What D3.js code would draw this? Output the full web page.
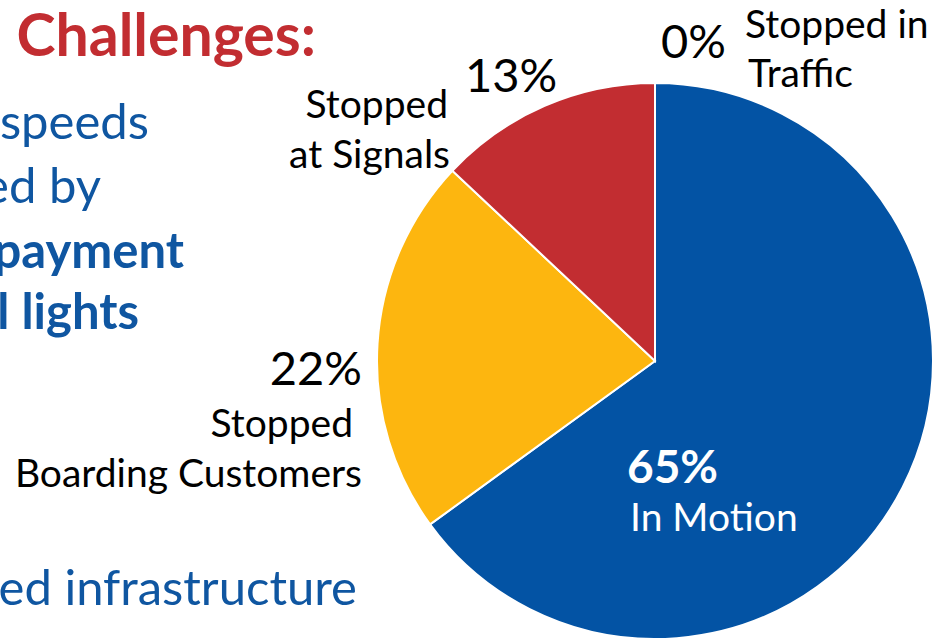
<!DOCTYPE html>
<html>
<head>
<meta charset="utf-8">
<script src="https://cdn.jsdelivr.net/npm/d3@7"></script>
<style>
  html, body { margin: 0; padding: 0; background: #fff; overflow: hidden; }
  svg { display: block; font-family: Lato, "Open Sans", sans-serif; }
</style>
</head>
<body>
<div id="chart"></div>
<script>
// Slice data (clockwise from 12 o'clock)
const categories = ["In Motion", "Stopped Boarding Customers", "Stopped at Signals", "Stopped in Traffic"];
const values = [65, 22, 13, 0];
const colors = ["#0353a4", "#fdb60f", "#c22d31", "#7f7f7f"];

// Slice names broken in lines as on the slide
const labelLines = [["In Motion"], ["Stopped", "Boarding Customers"], ["Stopped", "at Signals"], ["Stopped in", "Traffic"]];

// Fragments of the slide text on the left (cut off by the crop)
const sideText = ["Challenges:", "speeds", "ed by", "payment", "l lights", "ed infrastructure"];

function createPie() {
    const width = 946, height = 640;
    const cx = 655, cy = 361, radius = 278;

    const svg = d3.select("#chart")
        .append("svg")
        .attr("width", width)
        .attr("height", height);

    // Left slide text, right-aligned on where each fragment ends
    const sideStyle = [
        {x: 316, y: 56, size: 59, weight: "bold", color: "#c22d31"},
        {x: 149, y: 139, size: 49, weight: "normal", color: "#0f56a1"},
        {x: 101, y: 203, size: 49, weight: "normal", color: "#0f56a1"},
        {x: 184, y: 268, size: 49, weight: "bold", color: "#0f56a1"},
        {x: 139, y: 329, size: 49, weight: "bold", color: "#0f56a1"},
        {x: 357, y: 605, size: 49, weight: "normal", color: "#0f56a1"}
    ];
    svg.append("g")
        .attr("text-anchor", "end")
        .selectAll("text")
        .data(sideText)
        .join("text")
        .attr("x", (d, i) => sideStyle[i].x)
        .attr("y", (d, i) => sideStyle[i].y)
        .attr("fill", (d, i) => sideStyle[i].color)
        .attr("font-weight", (d, i) => sideStyle[i].weight)
        .attr("font-size", (d, i) => sideStyle[i].size)
        .text(d => d);

    const data = categories.map((c, i) => ({name: c, value: values[i], color: colors[i], lines: labelLines[i]}));

    const pie = d3.pie()
        .sort(null)
        .value(d => d.value);

    const arc = d3.arc()
        .innerRadius(0)
        .outerRadius(radius);

    svg.append("g")
        .attr("transform", `translate(${cx},${cy})`)
        .selectAll("path")
        .data(pie(data).filter(d => d.data.value > 0))
        .join("path")
        .attr("d", arc)
        .attr("fill", d => d.data.color)
        .attr("stroke", "#fff")
        .attr("stroke-width", 2);

    // Label layout in page pixels
    const labelLayout = [
        {pct: [627, 483], pctAnchor: "start", pctSize: 46, pctBold: true, color: "#fff",
         lines: [[630, 531]], nameAnchor: "start"},
        {pct: [362, 385], pctAnchor: "end", pctSize: 47, pctBold: false, color: "#000",
         lines: [[353, 437], [362, 487]], nameAnchor: "end"},
        {pct: [465, 92], pctAnchor: "start", pctSize: 47, pctBold: false, color: "#000",
         lines: [[448, 118], [450, 168]], nameAnchor: "end"},
        {pct: [661, 58], pctAnchor: "start", pctSize: 47, pctBold: false, color: "#000",
         lines: [[745, 38], [748, 87]], nameAnchor: "start"}
    ];

    const labels = svg.selectAll("g.label")
        .data(data)
        .join("g")
        .attr("class", "label")
        .attr("fill", (d, i) => labelLayout[i].color);

    labels.append("text")
        .attr("x", (d, i) => labelLayout[i].pct[0])
        .attr("y", (d, i) => labelLayout[i].pct[1])
        .attr("text-anchor", (d, i) => labelLayout[i].pctAnchor)
        .attr("font-size", (d, i) => labelLayout[i].pctSize)
        .attr("font-weight", (d, i) => labelLayout[i].pctBold ? "bold" : "normal")
        .text(d => d3.format(".0f")(d.value) + "%");

    labels.each(function(d, i) {
        const L = labelLayout[i];
        const t = d3.select(this).append("text")
            .attr("text-anchor", L.nameAnchor)
            .attr("font-size", 39);
        d.lines.forEach((line, j) => {
            t.append("tspan")
                .attr("x", L.lines[j][0])
                .attr("y", L.lines[j][1])
                .text(line);
        });
    });
}

createPie();
</script>
</body>
</html>
